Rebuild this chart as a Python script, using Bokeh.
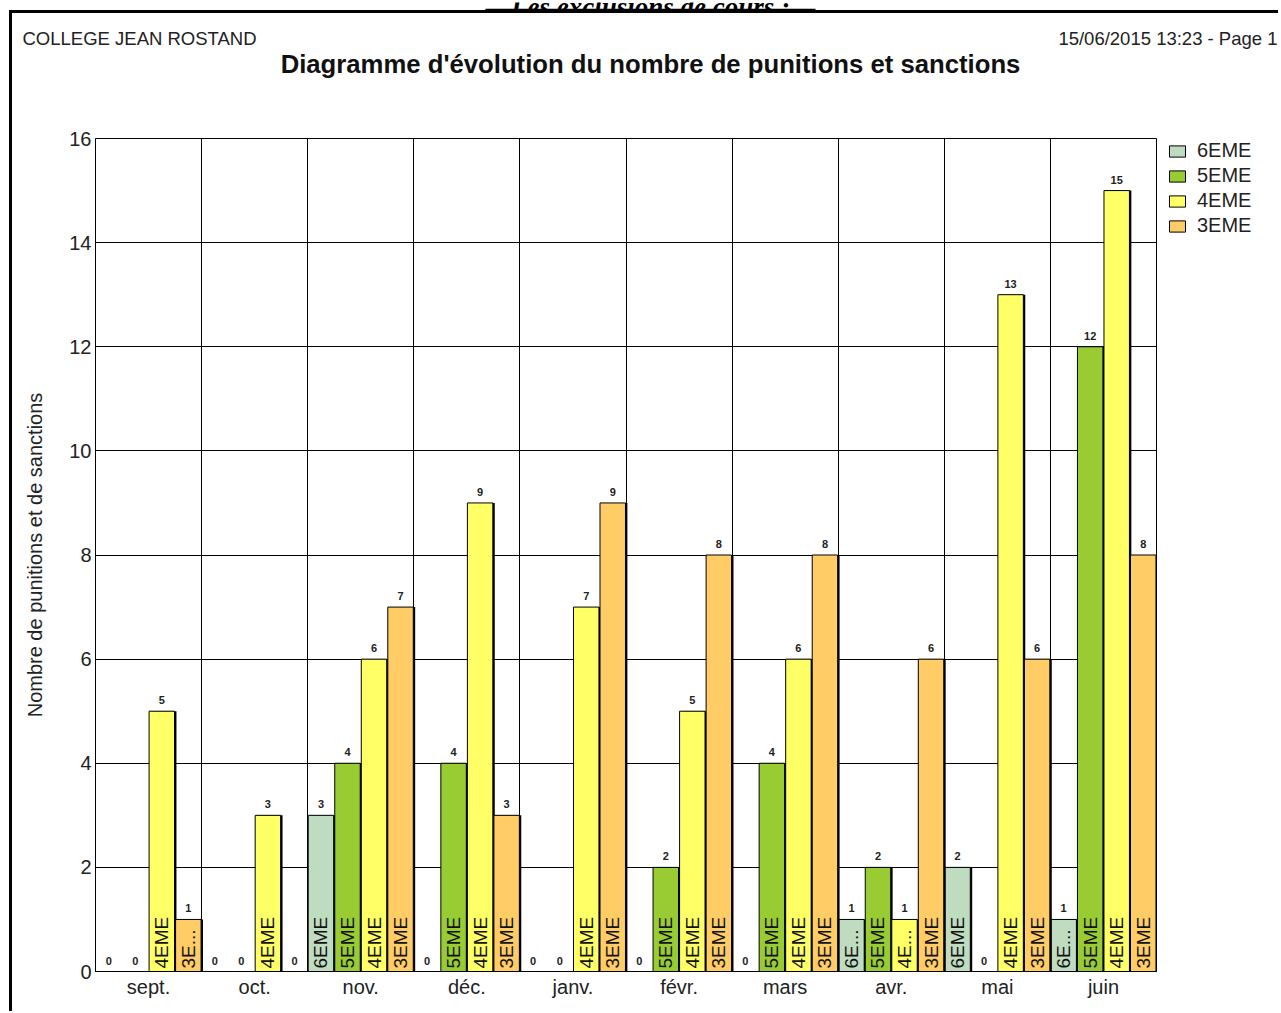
import numpy as np
from bokeh.plotting import figure
from bokeh.models import Range1d, FixedTicker, Legend, LegendItem, ColumnDataSource
from bokeh.embed import file_html
from bokeh.resources import INLINE
from bokeh.core.properties import value

# ---------------- data ----------------
months = ["sept.", "oct.", "nov.", "déc.", "janv.", "févr.", "mars", "avr.", "mai", "juin"]
series = ["6EME", "5EME", "4EME", "3EME"]
v6 = [0, 0, 3, 0, 0, 0, 0, 1, 2, 1]
v5 = [0, 0, 4, 4, 0, 2, 4, 2, 0, 12]
v4 = [5, 3, 6, 9, 7, 5, 6, 1, 13, 15]
v3 = [1, 0, 7, 3, 9, 8, 8, 6, 6, 8]
colors = ["#C0DCC0", "#99CC33", "#FFFF66", "#FFCC66"]
y_ticks = [0, 2, 4, 6, 8, 10, 12, 14, 16]

page_heading = "Les exclusions de cours :"
title_text = "Diagramme d'évolution du nombre de punitions et sanctions"
school = "COLLEGE JEAN ROSTAND"
stamp = "15/06/2015 13:23 - Page 1"
y_label = "Nombre de punitions et de sanctions"

FONT = "Liberation Sans"
TXT = "#222222"


def bare(fig):
    fig.axis.visible = False
    fig.grid.visible = False
    fig.outline_line_color = None
    fig.title.visible = False
    return fig


# ---------------- cut-off page heading (only its lower part is visible) ----------------
TW, TH = 1281, 10
t = bare(figure(width=TW, height=TH, output_backend="svg", toolbar_location=None,
                x_range=Range1d(0, TW), y_range=Range1d(TH, 0),
                min_border=0, min_border_left=0, min_border_right=0,
                min_border_top=0, min_border_bottom=0))
t.text(x=[650], y=[4], text=[page_heading], text_align="center",
       text_baseline="alphabetic", text_font=value("Liberation Serif"),
       text_font_size="27px", text_font_style="bold italic", text_color="black")
t.segment(x0=[485], y0=[7], x1=[815], y1=[7], line_color="black", line_width=1.5)

# ---------------- header ----------------
HW, HH = 1269, 80
h = bare(figure(width=HW, height=HH, output_backend="svg", toolbar_location=None,
                x_range=Range1d(0, HW), y_range=Range1d(HH, 0),
                min_border=0, min_border_left=0, min_border_right=0,
                min_border_top=0, min_border_bottom=0,
                styles={"margin-left": "9px",
                        "border-left": "3px solid black",
                        "border-top": "3px solid black"}))
h.text(x=[10], y=[25], text=[school], text_align="left", text_baseline="middle",
       text_font=value(FONT), text_font_size="18.5px", text_color=TXT)
h.text(x=[1265], y=[25], text=[stamp], text_align="right", text_baseline="middle",
       text_font=value(FONT), text_font_size="18.5px", text_color=TXT)
h.text(x=[638], y=[50], text=[title_text], text_align="center", text_baseline="middle",
       text_font=value(FONT), text_font_size="25.7px", text_font_style="bold",
       text_color="#111111")

# ---------------- chart ----------------
p = figure(frame_width=1061, frame_height=833, output_backend="svg",
           toolbar_location=None,
           x_range=Range1d(0, len(months)), y_range=Range1d(0, 16),
           min_border_left=83, min_border_right=117, min_border_top=48,
           min_border_bottom=40,
           styles={"margin-left": "9px", "border-left": "3px solid black"})
p.title.visible = False
p.outline_line_color = "black"
p.outline_line_width = 1

p.ygrid.ticker = FixedTicker(ticks=y_ticks)
p.ygrid.grid_line_color = "black"
p.ygrid.grid_line_width = 1
p.xgrid.ticker = FixedTicker(ticks=list(range(len(months) + 1)))
p.xgrid.grid_line_color = "black"
p.xgrid.grid_line_width = 1

p.yaxis.ticker = FixedTicker(ticks=y_ticks)
p.yaxis.axis_label = y_label
p.yaxis.axis_label_text_font = FONT
p.yaxis.axis_label_text_font_size = "20px"
p.yaxis.axis_label_text_font_style = "normal"
p.yaxis.axis_label_text_color = TXT
p.yaxis.axis_label_standoff = 20
centers = [i + 0.5 for i in range(len(months))]
p.xaxis.ticker = FixedTicker(ticks=centers)
p.xaxis.major_label_overrides = {c: m for c, m in zip(centers, months)}
for ax in (p.xaxis, p.yaxis):
    ax.major_label_text_font = FONT
    ax.major_label_text_font_size = "20px"
    ax.major_label_text_color = TXT
    ax.major_tick_out = 0
    ax.major_tick_in = 0
    ax.minor_tick_out = 0
    ax.minor_tick_in = 0
    ax.axis_line_color = "black"
    ax.major_label_standoff = 4

offsets = [-0.375, -0.125, 0.125, 0.375]
BAR_W = 0.24
SHADOW = 0.018
vals = [v6, v5, v4, v3]
items = []
for name, off, vv, col in zip(series, offsets, vals, colors):
    xs = [c + off for c in centers]
    inner = [name if v >= 2 else (name[:2] + "..." if v == 1 else "") for v in vv]
    src = ColumnDataSource(dict(x=xs, xs=[x + SHADOW for x in xs], top=vv,
                                txt=[str(v) for v in vv], inner=inner))
    # thin drop shadow on the right side of each bar
    p.vbar(x="xs", top="top", width=BAR_W, source=src, fill_color="black",
           line_color=None)
    r = p.vbar(x="x", top="top", width=BAR_W, source=src, fill_color=col,
               line_color="black", line_width=1)
    items.append(LegendItem(label=name, renderers=[r]))
    p.text(x="x", y="top", text="txt", source=src, text_align="center",
           text_baseline="middle", y_offset=-11, text_font=value(FONT),
           text_font_size="11px", text_font_style="bold", text_color=TXT)
    p.text(x="x", y=0, text="inner", source=src, angle=np.pi / 2,
           text_align="left", text_baseline="middle", y_offset=-3,
           text_font=value(FONT), text_font_size="19px", text_color="#111111")

legend = Legend(items=items, location=(11, 734))
legend.label_text_font = FONT
legend.label_text_font_size = "20px"
legend.label_text_color = TXT
legend.glyph_width = 20
legend.glyph_height = 14
legend.label_height = 20
legend.label_standoff = 10
legend.spacing = 2
legend.padding = 4
legend.margin = 0
legend.border_line_color = None
legend.background_fill_alpha = 0
p.add_layout(legend, "right")

open("out.html", "w").write(file_html([t, h, p], INLINE))
